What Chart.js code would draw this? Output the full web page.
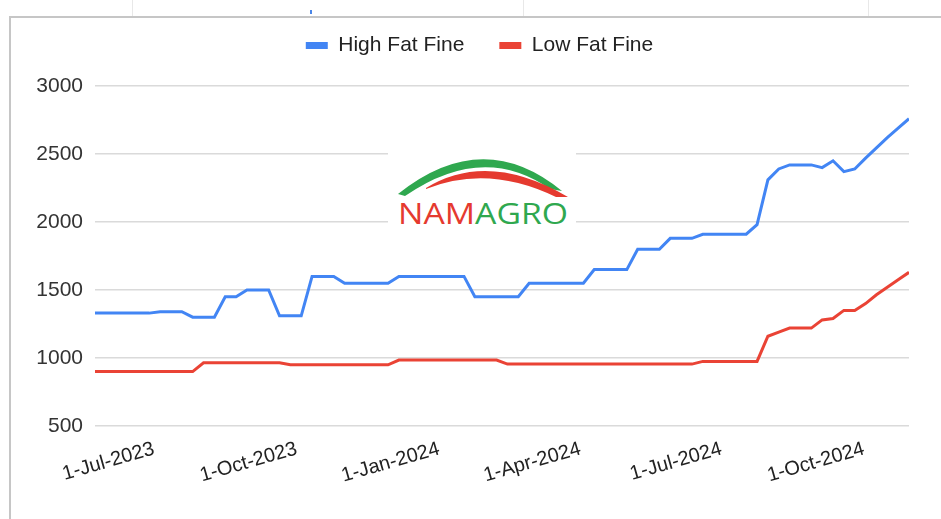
<!DOCTYPE html>
<html><head><meta charset="utf-8">
<script src="https://cdn.jsdelivr.net/npm/chart.js@4.4.1/dist/chart.umd.min.js"></script>
<style>
html,body{margin:0;padding:0;background:#fff;width:941px;height:519px;overflow:hidden;}
#wrap{position:absolute;left:0;top:0;width:941px;height:519px;}
#frame{position:absolute;left:9px;top:16px;width:940px;height:510px;border-left:2px solid #c6c6c6;border-top:2px solid #c6c6c6;}
.vl{position:absolute;top:0;width:1px;height:16px;background:#e8e8e8;}
#c{position:absolute;left:0;top:0;}
#logo{position:absolute;left:388px;top:150px;width:188px;height:84px;background:#fff;}
</style></head><body>
<div id="wrap">
<div class="vl" style="left:132px"></div>
<div class="vl" style="left:523px"></div>
<div class="vl" style="left:868px"></div>
<div style="position:absolute;left:310px;top:10px;width:2px;height:4px;background:#4a86e8"></div>
<div id="frame"></div>
<canvas id="c" width="941" height="519"></canvas>
<div id="logo">
<svg width="188" height="84" viewBox="0 0 188 84" xmlns="http://www.w3.org/2000/svg">
<path d="M10 44 Q95 -24 174 41 L162 39 Q95 -8 17 46 Z" fill="#2fa84f"/>
<path d="M38 38 Q100 0 180 47 L168 47 Q100 14 38 39 Z" fill="#e53a2f"/>
<text x="10" y="74" font-family="Open Sans, Liberation Sans, sans-serif" font-size="29" textLength="170" lengthAdjust="spacingAndGlyphs"><tspan fill="#e53a2f">NAM</tspan><tspan fill="#2fa84f">AGRO</tspan></text>
</svg>
</div>
</div>
<script>
const dates = [
"2023-05-24","2023-05-31","2023-06-07","2023-06-14","2023-06-21","2023-06-28","2023-07-05","2023-07-12",
"2023-07-19","2023-07-26","2023-08-02","2023-08-09","2023-08-16","2023-08-23","2023-08-30","2023-09-06",
"2023-09-13","2023-09-20","2023-09-27","2023-10-04","2023-10-11","2023-10-18","2023-10-25","2023-11-01",
"2023-11-08","2023-11-15","2023-11-22","2023-11-29","2023-12-06","2023-12-13","2023-12-20","2023-12-27",
"2024-01-03","2024-01-10","2024-01-17","2024-01-24","2024-01-31","2024-02-07","2024-02-14","2024-02-21",
"2024-02-28","2024-03-06","2024-03-13","2024-03-20","2024-03-27","2024-04-03","2024-04-10","2024-04-17",
"2024-04-24","2024-05-01","2024-05-08","2024-05-15","2024-05-22","2024-05-29","2024-06-05","2024-06-12",
"2024-06-19","2024-06-26","2024-07-03","2024-07-10","2024-07-17","2024-07-24","2024-07-31","2024-08-07",
"2024-08-14","2024-08-21","2024-08-28","2024-09-04","2024-09-11","2024-09-18","2024-09-25","2024-10-02",
"2024-10-09","2024-10-16","2024-10-23","2024-10-30"];
const highFatFine = [
1330,1330,1330,1330,1330,1330,1340,1340,1340,1300,1300,1300,1450,1450,1500,1500,
1500,1310,1310,1310,1600,1600,1600,1550,1550,1550,1550,1550,1600,1600,1600,1600,
1600,1600,1600,1450,1450,1450,1450,1450,1550,1550,1550,1550,1550,1550,1650,1650,
1650,1650,1800,1800,1800,1880,1880,1880,1910,1910,1910,1910,1910,1980,2310,2390,
2420,2420,2420,2400,2450,2370,2390,2470,2545,2620,2690,2760];
const lowFatFine = [
900,900,900,900,900,900,900,900,900,900,965,965,965,965,965,965,
965,965,950,950,950,950,950,950,950,950,950,950,985,985,985,985,
985,985,985,985,985,985,955,955,955,955,955,955,955,955,955,955,
955,955,955,955,955,955,955,955,975,975,975,975,975,975,1160,1190,
1220,1220,1220,1280,1290,1350,1350,1400,1465,1520,1575,1630];
const tickDates = ["2023-07-01","2023-10-01","2024-01-01","2024-04-01","2024-07-01","2024-10-01"];
const tickLabels = ["1-Jul-2023","1-Oct-2023","1-Jan-2024","1-Apr-2024","1-Jul-2024","1-Oct-2024"];
const seriesNames = ["High Fat Fine","Low Fat Fine"];
const yTicks = [500,1000,1500,2000,2500,3000];

const t0 = Date.UTC(2023,4,24);
function dayNum(s){const p=s.split('-').map(Number);return (Date.UTC(p[0],p[1]-1,p[2])-t0)/86400000;}
const tickValues = tickDates.map(dayNum);
const pts = arr => arr.map((v,i)=>({x:dayNum(dates[i]),y:v}));

Chart.defaults.font.family = "'Liberation Sans', Arial, sans-serif";
const legendSpacer = {id:'legendSpacer',
  beforeInit(chart){const f=chart.legend.fit;chart.legend.fit=function(){f.bind(chart.legend)();this.height+=20;};},
  afterLayout(chart){chart.legend.left+=25;chart.legend.right+=25;}
};

new Chart(document.getElementById('c'),{
  type:'line',
  data:{datasets:[
    {label:seriesNames[0],data:pts(highFatFine),borderColor:'#4285f4',backgroundColor:'#4285f4',borderWidth:3,pointRadius:0,tension:0},
    {label:seriesNames[1],data:pts(lowFatFine),borderColor:'#ea4335',backgroundColor:'#ea4335',borderWidth:3,pointRadius:0,tension:0}
  ]},
  options:{
    responsive:false,animation:false,devicePixelRatio:1,
    layout:{padding:{top:0,right:32,left:0,bottom:0}},
    plugins:{
      legend:{position:'top',align:'center',labels:{font:{size:21},color:'#222',boxWidth:22,boxHeight:7,padding:35,
        generateLabels(chart){return Chart.defaults.plugins.legend.labels.generateLabels(chart).map(l=>Object.assign(l,{lineWidth:0,strokeStyle:'rgba(0,0,0,0)'}));}}},
      tooltip:{enabled:false}
    },
    scales:{
      x:{type:'linear',min:dayNum(dates[0]),max:dayNum(dates[dates.length-1]),
        grid:{display:false},border:{display:false},
        afterBuildTicks(ax){ax.ticks=tickValues.map(v=>({value:v}));},
        afterFit(ax){ax.height=93;},
        ticks:{autoSkip:false,minRotation:16,maxRotation:16,font:{size:20},color:'#222',padding:3,
          callback(v){const i=tickValues.indexOf(v);return i>=0?tickLabels[i]:'';}}
      },
      y:{min:500,max:3000,
        afterBuildTicks(ax){ax.ticks=yTicks.map(v=>({value:v}));},
        afterFit(ax){ax.width=95;},
        grid:{color:'#dadada',lineWidth:1.5,drawTicks:false},border:{display:false},
        ticks:{font:{size:21},color:'#333',padding:12,callback(v){return String(v);}}
      }
    }
  },
  plugins:[legendSpacer]
});
</script>
</body></html>
